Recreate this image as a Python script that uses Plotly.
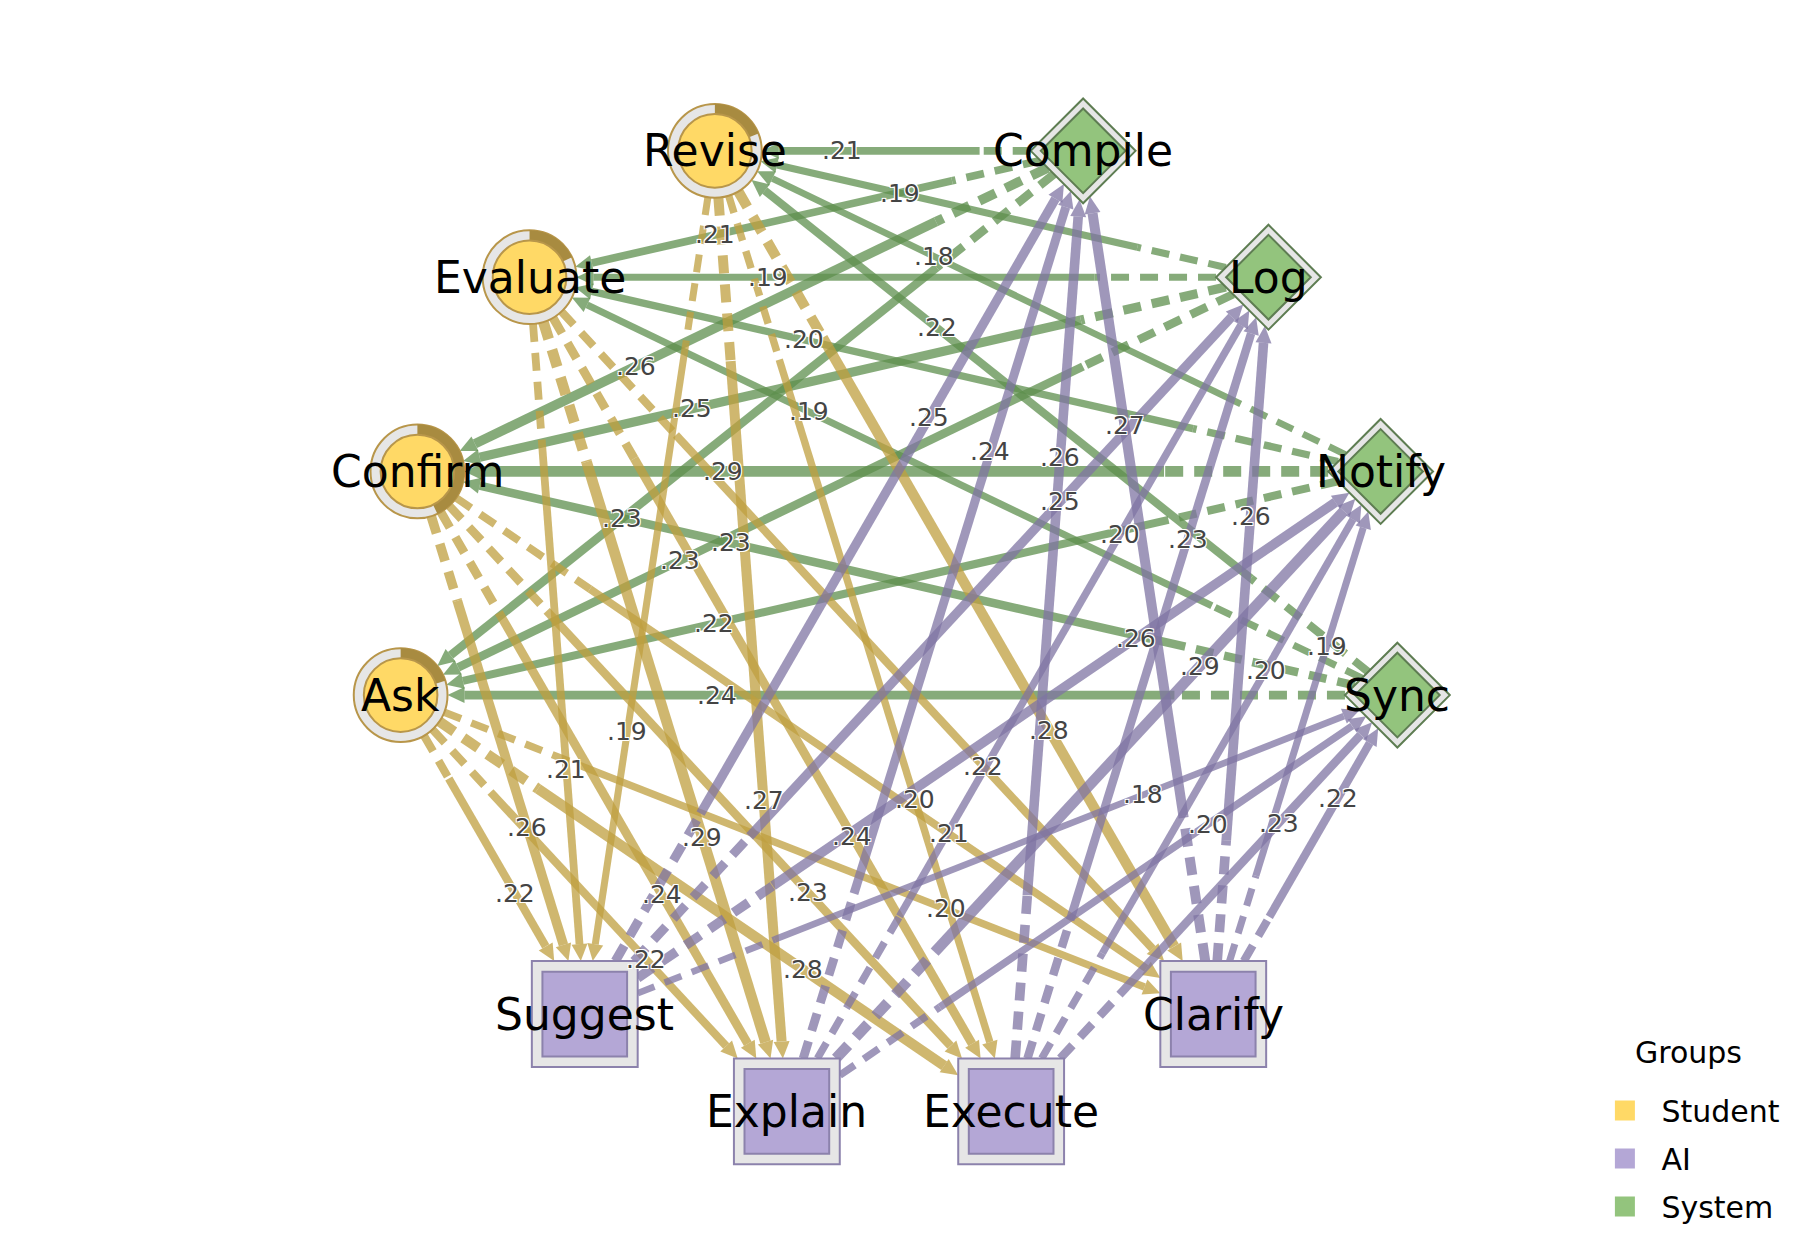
import numpy as np
import plotly.graph_objects as go


# ---------------- data ----------------
student_nodes = ["Revise", "Evaluate", "Confirm", "Ask"]
ai_nodes = ["Suggest", "Explain", "Execute", "Clarify"]
system_nodes = ["Sync", "Notify", "Log", "Compile"]

# share of sessions that start on each student step (dark arc on the ring)
start_share = [0.19, 0.18, 0.43, 0.20]

# transition probabilities, rows = from, columns = to
sys_from = ["Compile", "Log", "Notify", "Sync"]
sys_to_student = [
    [0.21, 0.21, 0.26, 0.23],
    [0.19, 0.19, 0.25, 0.23],
    [0.18, 0.20, 0.29, 0.22],
    [0.22, 0.19, 0.23, 0.24],
]

student_to_ai = [
    [0.19, 0.27, 0.20, 0.28],
    [0.21, 0.29, 0.24, 0.22],
    [0.26, 0.24, 0.23, 0.21],
    [0.22, 0.22, 0.28, 0.20],
]

ai_to_sys_cols = ["Compile", "Log", "Notify", "Sync"]
ai_to_sys = [
    [0.25, 0.25, 0.26, 0.18],
    [0.24, 0.20, 0.29, 0.20],
    [0.26, 0.23, 0.20, 0.23],
    [0.27, 0.26, 0.19, 0.22],
]

group_colors = {"Student": "#FFD966", "AI": "#B4A7D6", "System": "#93C47D"}
edge_colors = {"Student": "rgba(191,159,63,0.75)",
               "AI": "rgba(127,116,163,0.75)",
               "System": "rgba(94,143,78,0.75)"}
line_colors = {"Student": "#B8964A", "AI": "#8C82AC", "System": "#5E7D52"}
arc_color = "#A88B40"
ring_color = "#E6E6E6"

FONT = "DejaVu Sans, Verdana, sans-serif"

# ---------------- layout of the nodes (circle, groups separated by a gap) ----------------
members = {"Student": student_nodes, "AI": ai_nodes, "System": system_nodes}
group_center = {"Student": 150, "AI": 270, "System": 30}
step = 360 / 14

pos = {}
group_of = {}
for g, names in members.items():
    for k, n in enumerate(names):
        a = np.radians(group_center[g] + (k - 1.5) * step)
        pos[n] = np.array([np.cos(a), np.sin(a)])
        group_of[n] = g

SCALE = 504.0  # px per layout unit
# node sizes in layout units
R_OUT = 0.093
R_IN = 0.073
SQ_OUT = 0.105
SQ_IN = 0.084
DI_OUT = 0.104
DI_IN = 0.084
ARROW_L = 17 / SCALE
ARROW_H = 8 / SCALE


def boundary(name, u):
    g = group_of[name]
    if g == "Student":
        return R_OUT
    if g == "AI":
        return SQ_OUT / max(abs(u[0]), abs(u[1]))
    return DI_OUT / (abs(u[0]) + abs(u[1]))


edges = []
for i, s in enumerate(sys_from):
    for j, t in enumerate(student_nodes):
        edges.append((s, t, sys_to_student[i][j]))
for i, s in enumerate(student_nodes):
    for j, t in enumerate(ai_nodes):
        edges.append((s, t, student_to_ai[i][j]))
for i, s in enumerate(ai_nodes):
    for j, t in enumerate(ai_to_sys_cols):
        edges.append((s, t, ai_to_sys[i][j]))

fig = go.Figure()
annotations = []

for s, t, w in edges:
    d = pos[t] - pos[s]
    u = d / np.linalg.norm(d)
    nrm = np.array([-u[1], u[0]])
    p0 = pos[s] + u * boundary(s, u)
    p1 = pos[t] - u * boundary(t, u)
    base = p1 - u * ARROW_L
    mid = p0 + 0.19 * (p1 - p0)
    lab = p0 + 0.70 * (p1 - p0)
    col = edge_colors[group_of[s]]
    width = 37 * w
    # dashed start near the source
    fig.add_trace(go.Scatter(x=[p0[0], mid[0]], y=[p0[1], mid[1]], mode="lines",
                             line=dict(color=col, width=width, dash="18px,11px"),
                             hoverinfo="skip", showlegend=False))
    # solid body up to the arrow head
    fig.add_trace(go.Scatter(x=[mid[0], base[0]], y=[mid[1], base[1]], mode="lines",
                             line=dict(color=col, width=width),
                             hoverinfo="skip", showlegend=False))
    # arrow head
    c1 = base + nrm * ARROW_H
    c2 = base - nrm * ARROW_H
    fig.add_trace(go.Scatter(x=[p1[0], c1[0], c2[0], p1[0]], y=[p1[1], c1[1], c2[1], p1[1]],
                             mode="lines", fill="toself", fillcolor=col,
                             line=dict(width=0, color=col),
                             hoverinfo="skip", showlegend=False))
    annotations.append(dict(x=lab[0], y=lab[1], text=("%.2f" % w).lstrip("0"),
                            showarrow=False,
                            font=dict(family=FONT, size=25, color="#444444",
                                      shadow="1px 1px 0 #fff, -1px -1px 0 #fff, 1px -1px 0 #fff, -1px 1px 0 #fff")))

# ---------------- nodes ----------------
shapes = []
for n, (x, y) in pos.items():
    g = group_of[n]
    lc = line_colors[g]
    if g == "Student":
        shapes.append(dict(type="circle", x0=x - R_OUT, x1=x + R_OUT, y0=y - R_OUT, y1=y + R_OUT,
                           fillcolor=ring_color, line=dict(color=lc, width=2), layer="above"))
        share = start_share[student_nodes.index(n)]
        th = np.radians(90 - np.linspace(0, 360 * share, 60))
        xs = np.concatenate([x + R_OUT * np.cos(th), x + R_IN * np.cos(th[::-1])])
        ys = np.concatenate([y + R_OUT * np.sin(th), y + R_IN * np.sin(th[::-1])])
        path = "M " + " L ".join("%.5f,%.5f" % (a, b) for a, b in zip(xs, ys)) + " Z"
        shapes.append(dict(type="path", path=path, fillcolor=arc_color, line=dict(width=0),
                           layer="above"))
        shapes.append(dict(type="circle", x0=x - R_IN, x1=x + R_IN, y0=y - R_IN, y1=y + R_IN,
                           fillcolor=group_colors[g], line=dict(color=lc, width=2), layer="above"))
    elif g == "AI":
        shapes.append(dict(type="rect", x0=x - SQ_OUT, x1=x + SQ_OUT, y0=y - SQ_OUT, y1=y + SQ_OUT,
                           fillcolor=ring_color, line=dict(color=lc, width=2), layer="above"))
        shapes.append(dict(type="rect", x0=x - SQ_IN, x1=x + SQ_IN, y0=y - SQ_IN, y1=y + SQ_IN,
                           fillcolor=group_colors[g], line=dict(color=lc, width=2), layer="above"))
    else:
        for h, fc in ((DI_OUT, ring_color), (DI_IN, group_colors[g])):
            path = "M %f,%f L %f,%f L %f,%f L %f,%f Z" % (x, y + h, x + h, y, x, y - h, x - h, y)
            shapes.append(dict(type="path", path=path, fillcolor=fc,
                               line=dict(color=lc, width=2), layer="above"))
    annotations.append(dict(x=x, y=y, text=n, showarrow=False,
                            font=dict(family=FONT, size=44, color="black")))

# legend entries
for g in ["Student", "AI", "System"]:
    fig.add_trace(go.Scatter(x=[None], y=[None], mode="markers", name=g, legendgroup=g,
                             marker=dict(symbol="square", size=16, color=group_colors[g],
                                         line=dict(color=group_colors[g], width=4))))

annotations.append(dict(x=1680 / 1800, y=1 - 1044 / 1260, xref="paper", yref="paper",
                        xanchor="center", yanchor="middle",
                        text="Groups", showarrow=False,
                        font=dict(family=FONT, size=30, color="black")))

W, H = 1800, 1260
cx, cy = 891, 612
fig.update_layout(
    width=W, height=H,
    margin=dict(l=0, r=0, t=0, b=0),
    paper_bgcolor="white", plot_bgcolor="white",
    xaxis=dict(range=[-cx / SCALE, (W - cx) / SCALE], visible=False, fixedrange=True),
    yaxis=dict(range=[-(H - cy) / SCALE, cy / SCALE], visible=False, fixedrange=True),
    shapes=shapes,
    annotations=annotations,
    hovermode=False,
    legend=dict(font=dict(size=30, family=FONT, color="black"),
                x=0.878, y=0.1456, xanchor="left", yanchor="top", itemwidth=63,
                bgcolor="rgba(0,0,0,0)", tracegroupgap=6),
)

fig.write_html("out.html", config={"displayModeBar": False})
